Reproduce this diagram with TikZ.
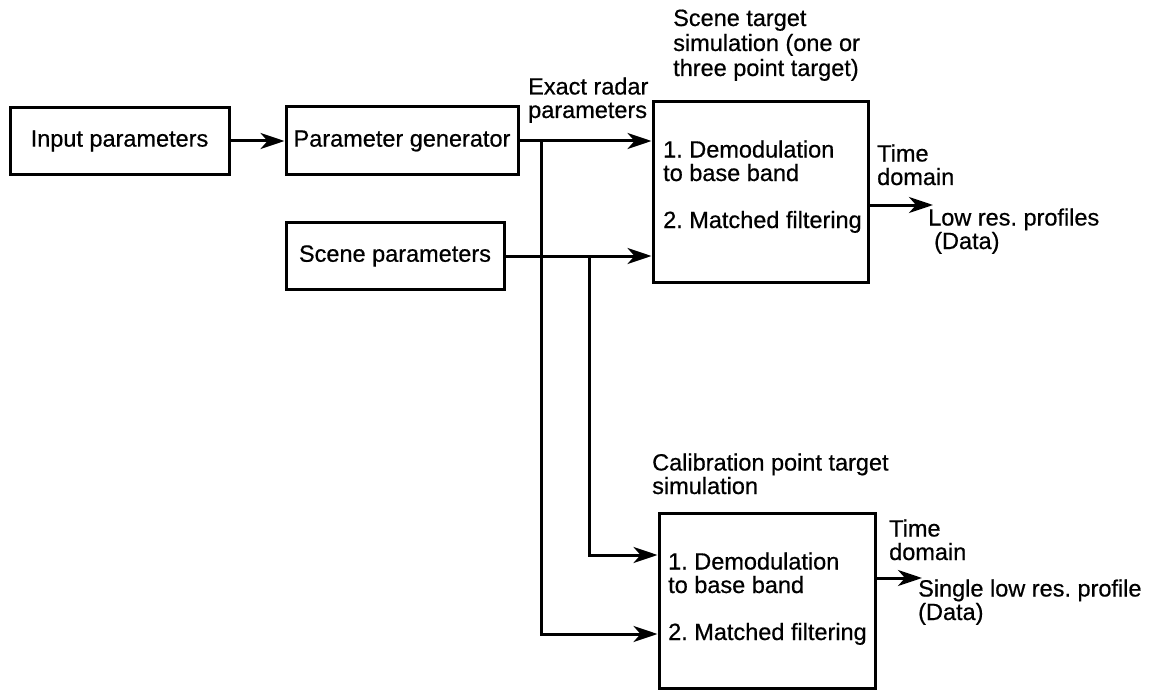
\documentclass[tikz,border=0pt]{standalone}
\usepackage{fontspec}
\setmainfont{Liberation Sans}
\newfontfamily\diagfont[FakeBold=0.6]{Liberation Sans}
\usetikzlibrary{arrows.meta,calc}
\frenchspacing
\begin{document}
\begin{tikzpicture}[x=1pt,y=-1pt,
  txtfont/.style={font=\diagfont\fontsize{23.5}{23.5}\selectfont},
  box/.style={draw, line width=3pt, inner sep=0pt, rectangle, txtfont},
  lbl/.style={inner sep=0pt, anchor=base west, align=left, txtfont},
  conn/.style={line width=3pt},
  arr/.style={conn, -{Stealth[length=24pt,width=16pt,inset=7pt]}},
]
\useasboundingbox (0,0) rectangle (1157,690);

% boxes
\node[box, minimum width=219, minimum height=67] (inp) at (119.5,141) {Input parameters};
\node[box, minimum width=232, minimum height=68] (pg) at (402,141) {Parameter generator};
\node[box, minimum width=218, minimum height=67] (sp) at (395,256) {Scene parameters};
\node[box, minimum width=215, minimum height=180] (scene) at (760.5,192) {};
\node[box, minimum width=216, minimum height=175] (calib) at (767,600.5) {};

% labels (anchor base = baseline of the last line)
\node[lbl, font=\diagfont\fontsize{23.5}{25}\selectfont] (scenecap) at (673,76) {Scene target\\simulation (one or\\three point target)};
\node[lbl] (exact) at (528,118) {Exact radar\\parameters};
\node[lbl] (scenetxt) at (663,228) {1. Demodulation\\to base band\\[23.5pt]2. Matched filtering};
\node[lbl] (td1) at (877,185) {Time\\domain};
\node[lbl] (out1) at (928,249) {Low res. profiles\\\hspace*{6pt}(Data)};
\node[lbl] (calcap) at (652,494) {Calibration point target\\simulation};
\node[lbl] (caltxt) at (668,640) {1. Demodulation\\to base band\\[23.5pt]2. Matched filtering};
\node[lbl] (td2) at (889,560) {Time\\domain};
\node[lbl] (out2) at (918,620) {Single low res. profile\\(Data)};

% connectors
\draw[arr] (inp.east) -- (pg.west);
\draw[arr] (pg.east) -- (pg.east -| scene.west);
\draw[arr] (sp.east) -- (sp.east -| scene.west);
\coordinate (j1) at ($(pg.east)+(22,0)$);
\coordinate (j2) at ($(sp.east)+(84,0)$);
\draw[arr] (j1) |- ($(calib.west)+(0,33.5)$);
\draw[arr] (j2) |- ($(calib.west)+(0,-45.5)$);
\coordinate (o1) at (933,205);
\coordinate (o2) at (922,578);
\draw[arr] (scene.east |- o1) -- (o1);
\draw[arr] (calib.east |- o2) -- (o2);
\end{tikzpicture}
\end{document}
